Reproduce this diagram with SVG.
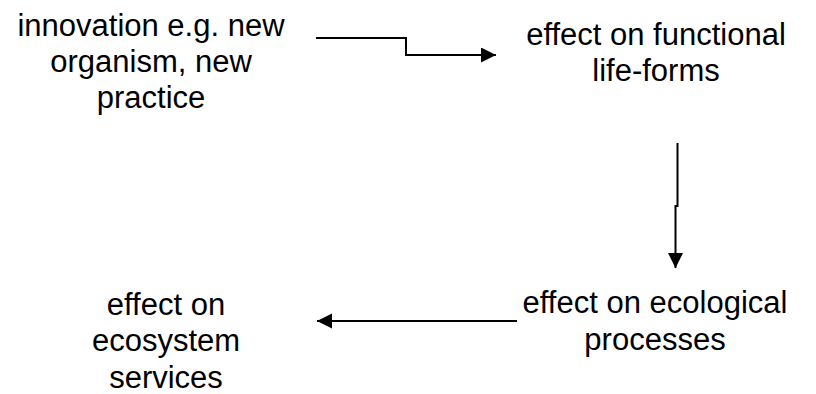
<svg xmlns="http://www.w3.org/2000/svg" width="816" height="394" viewBox="0 0 816 394">
  <style>
    .label { font-family: "Liberation Sans", Arial, sans-serif; font-size: 31px; fill: #000; text-anchor: middle; }
    .link { fill: none; stroke: #000; stroke-width: 2; }
  </style>
  <defs>
    <marker id="head" markerUnits="userSpaceOnUse" markerWidth="16" markerHeight="16" refX="15" refY="7.5" orient="auto">
      <path d="M0,0 L15,7.5 L0,15 Z" fill="#000"/>
    </marker>
  </defs>
  <rect width="816" height="394" fill="#fff"/>

  <g id="innovation">
    <text class="label" x="151" y="36">innovation e.g. new</text>
    <text class="label" x="151" y="72">organism, new</text>
    <text class="label" x="151" y="108">practice</text>
  </g>

  <g id="life-forms">
    <text class="label" x="656" y="45">effect on functional</text>
    <text class="label" x="656" y="81">life-forms</text>
  </g>

  <g id="ecological-processes">
    <text class="label" x="655" y="313">effect on ecological</text>
    <text class="label" x="655" y="350">processes</text>
  </g>

  <g id="ecosystem-services">
    <text class="label" x="166" y="315">effect on</text>
    <text class="label" x="166" y="351">ecosystem</text>
    <text class="label" x="166" y="388">services</text>
  </g>

  <g id="connectors">
    <polyline class="link" points="316,38 406,38 406,55 496,55" marker-end="url(#head)"/>
    <polyline class="link" points="677.5,143 677.5,206 675.5,206 675.5,268" marker-end="url(#head)"/>
    <polyline class="link" points="517,321 317,321" marker-end="url(#head)"/>
  </g>
</svg>
